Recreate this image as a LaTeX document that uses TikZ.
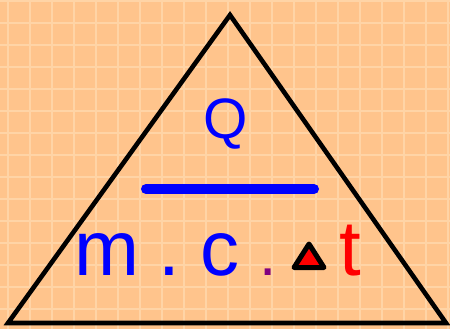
\documentclass[tikz,border=0pt]{standalone}
\usepackage{fontspec}
\setmainfont{Liberation Sans}
\usepackage{xcolor}
\definecolor{paper}{RGB}{255,196,140}
\definecolor{gridline}{RGB}{255,212,166}
\definecolor{dotpurple}{RGB}{128,0,128}

\tikzset{
  term/.style={inner sep=0pt,anchor=base,font=\fontsize{78}{78}\selectfont},
}

\begin{document}
\begin{tikzpicture}[x=1pt,y=-1pt]
\useasboundingbox (0,0) rectangle (450,329);
% Background and grid
\fill[paper] (0,0) rectangle (450,329);
\foreach \x in {0,...,20} {\draw[gridline,line width=2.5pt] (8+22*\x,0) -- (8+22*\x,329);}
\foreach \y in {0,...,14} {\draw[gridline,line width=2.5pt] (0,1+22*\y) -- (450,1+22*\y);}
% Big triangle
\coordinate (top) at (230,15);
\coordinate (left) at (8,323);
\coordinate (right) at (446,323);
\draw[line width=4.6pt,line join=miter] (top) -- (right) -- (left) -- cycle;
% Fraction
\node[term,blue,font=\fontsize{57}{57}\selectfont] (heat) at (226,138) {Q};
\coordinate (barl) at (146,189);
\coordinate (barr) at (314,189);
\draw[blue,line width=10pt,line cap=round] (barl) -- (barr);
% Denominator
\node[term,blue] (mass) at (106.5,275) {m};
\node[term,blue] (dota) at (169,275) {.};
\node[term,blue] (cap) at (220,275) {c};
\node[term,dotpurple,font=\fontsize{62}{62}\selectfont] (dotb) at (268,275) {.};
\draw[fill=red,line width=5pt,line join=round] (294,267.5) -- (324,267.5) -- (309,244) -- cycle;
\node[term,red] (time) at (350,275) {t};
\end{tikzpicture}
\end{document}
